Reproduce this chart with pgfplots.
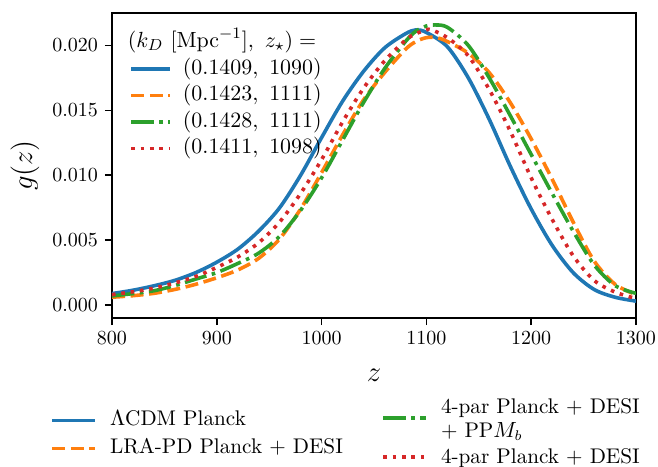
\documentclass[border=0pt]{standalone}
\usepackage{pgfplots}
\pgfplotsset{compat=1.18}
\definecolor{tabblue}{HTML}{1F77B4}
\definecolor{taborange}{HTML}{FF7F0E}
\definecolor{tabgreen}{HTML}{2CA02C}
\definecolor{tabred}{HTML}{D62728}
\pgfplotsset{
  sblue/.style={tabblue, line width=1.8pt},
  sorange/.style={taborange, line width=1.8pt, dash pattern=on 6.5pt off 2.8pt},
  sgreen/.style={tabgreen, line width=1.8pt, dash pattern=on 11.2pt off 2.8pt on 1.8pt off 2.8pt},
  sred/.style={tabred, line width=1.8pt, dash pattern=on 1.8pt off 2.9pt},
}
\begin{document}
\begin{tikzpicture}
\begin{axis}[
  name=main, at={(0,0)}, anchor=south west,
  scale only axis, width=262pt, height=152.5pt,
  xmin=800, xmax=1300, ymin=-0.001, ymax=0.0225,
  xtick={800,900,1000,1100,1200,1300},
  ytick={0,0.005,0.01,0.015,0.02},
  scaled y ticks=false,
  yticklabel style={/pgf/number format/fixed, /pgf/number format/fixed zerofill, /pgf/number format/precision=3},
  xticklabel style={/pgf/number format/1000 sep={}},
  tick align=outside, major tick length=3.5pt, tick pos=left,
  every tick/.style={black, line width=0.8pt},
  axis line style={line width=0.8pt},
  tick label style={font=\fontsize{10.4}{12.5}\selectfont},
  xlabel={$z$}, ylabel={$g(z)$},
  label style={font=\fontsize{14.5}{17}\selectfont},
  xlabel style={at={(rel axis cs:0.5,-0.187)}, anchor=center},
  ylabel style={at={(rel axis cs:-0.166,0.5)}, anchor=center},
  legend cell align=left,
  legend style={draw=none, fill=none, at={(rel axis cs:0.0324,0.9416)}, anchor=north west,
    inner sep=0pt, row sep=2.05pt,
    nodes={inner sep=0pt, text height=8.2pt, text depth=3pt, font=\fontsize{10.8}{13}\selectfont},
    /tikz/every odd column/.append style={column sep=5.5pt}},
  legend image code/.code={\draw[#1] (0pt,0pt) -- (19.5pt,0pt);},
]
\addlegendimage{empty legend}
\addlegendentry{\hspace*{-27.5pt}$(k_D\ [\mathrm{Mpc}^{-1}],\ z_\star) =$}

\addplot[sblue, smooth] coordinates {(800,0.00088) (820,0.00114) (840,0.00148) (860,0.0019) (880,0.0025) (900,0.0033) (920,0.0043) (940,0.0057) (960,0.0075) (980,0.0100) (1000,0.0129) (1020,0.0157) (1040,0.0180) (1060,0.0198) (1080,0.0209) (1090,0.0212) (1100,0.0210) (1120,0.0199) (1140,0.0175) (1160,0.0143) (1180,0.0107) (1200,0.0074) (1220,0.0046) (1240,0.0025) (1260,0.0012) (1280,0.0006) (1300,0.0003)};
\addlegendentry{$(0.1409,\ 1090)$}

\addplot[sorange, smooth] coordinates {(800,0.0006) (820,0.00072) (840,0.0009) (860,0.0012) (880,0.0016) (900,0.0021) (920,0.0027) (940,0.0036) (960,0.0051) (980,0.0074) (1000,0.0102) (1020,0.0131) (1040,0.0158) (1060,0.0179) (1080,0.0197) (1090,0.0203) (1100,0.0206) (1110,0.0206) (1120,0.0203) (1140,0.0194) (1160,0.0179) (1180,0.0156) (1200,0.0128) (1220,0.0097) (1240,0.0064) (1260,0.0034) (1280,0.0016) (1300,0.0008)};
\addlegendentry{$(0.1423,\ 1111)$}

\addplot[sgreen, smooth] coordinates {(800,0.0007) (820,0.00088) (840,0.0011) (860,0.0015) (880,0.0020) (900,0.0025) (920,0.0032) (940,0.0040) (960,0.0053) (980,0.0073) (1000,0.0098) (1020,0.0127) (1040,0.0156) (1060,0.0182) (1080,0.0203) (1090,0.0211) (1100,0.0215) (1108,0.02158) (1120,0.0214) (1140,0.0200) (1160,0.0175) (1180,0.0146) (1200,0.0116) (1220,0.0086) (1240,0.0057) (1260,0.0031) (1280,0.0015) (1300,0.0009)};
\addlegendentry{$(0.1428,\ 1111)$}

\addplot[sred, smooth] coordinates {(800,0.0008) (820,0.00102) (840,0.0013) (860,0.0017) (880,0.0022) (900,0.0029) (920,0.0037) (940,0.0048) (960,0.0064) (980,0.0086) (1000,0.0112) (1020,0.0141) (1040,0.0167) (1060,0.0188) (1080,0.0204) (1090,0.0209) (1100,0.0212) (1105,0.0212) (1120,0.0206) (1140,0.0192) (1160,0.0166) (1180,0.0134) (1200,0.0098) (1220,0.0066) (1240,0.0038) (1260,0.0019) (1280,0.0010) (1300,0.0005)};
\addlegendentry{$(0.1411,\ 1098)$}
\end{axis}

\begin{axis}[
  at={(0,0)}, anchor=south west,
  scale only axis, width=262pt, height=152.5pt,
  hide axis, xmin=0, xmax=1, ymin=0, ymax=1,
  legend cell align=left,
  legend style={draw=none, fill=none, at={(rel axis cs:-0.1183,-0.2984)}, anchor=north west,
    inner sep=0pt, row sep=3pt,
    nodes={inner sep=0pt, text height=8pt, text depth=3pt, font=\fontsize{10.6}{12}\selectfont},
    /tikz/every odd column/.append style={column sep=6.5pt}},
  legend image code/.code={\draw[#1] (0pt,0pt) -- (21.5pt,0pt);},
]
\addlegendimage{sblue}
\addlegendentry{$\Lambda$CDM Planck}
\addlegendimage{sorange}
\addlegendentry{LRA-PD Planck + DESI}
\end{axis}

\begin{axis}[
  at={(0,0)}, anchor=south west,
  scale only axis, width=262pt, height=152.5pt,
  hide axis, xmin=0, xmax=1, ymin=0, ymax=1,
  legend cell align=left,
  legend style={draw=none, fill=none, at={(rel axis cs:0.5134,-0.2557)}, anchor=north west,
    inner sep=0pt, row sep=3.5pt, nodes={inner sep=0pt, font=\fontsize{10.6}{12}\selectfont, align=left},
    /tikz/every odd column/.append style={column sep=6.5pt}},
  legend image code/.code={\draw[#1] (0pt,0pt) -- (21.5pt,0pt);},
]
\addlegendimage{sgreen}
\addlegendentry{\strut 4-par Planck + DESI\\\strut + PP$M_b$}
\addlegendimage{sred}
\addlegendentry{\strut 4-par Planck + DESI}
\end{axis}
\pgfresetboundingbox
\useasboundingbox (-56pt,-74pt) rectangle (273pt,159pt);
\end{tikzpicture}
\end{document}
